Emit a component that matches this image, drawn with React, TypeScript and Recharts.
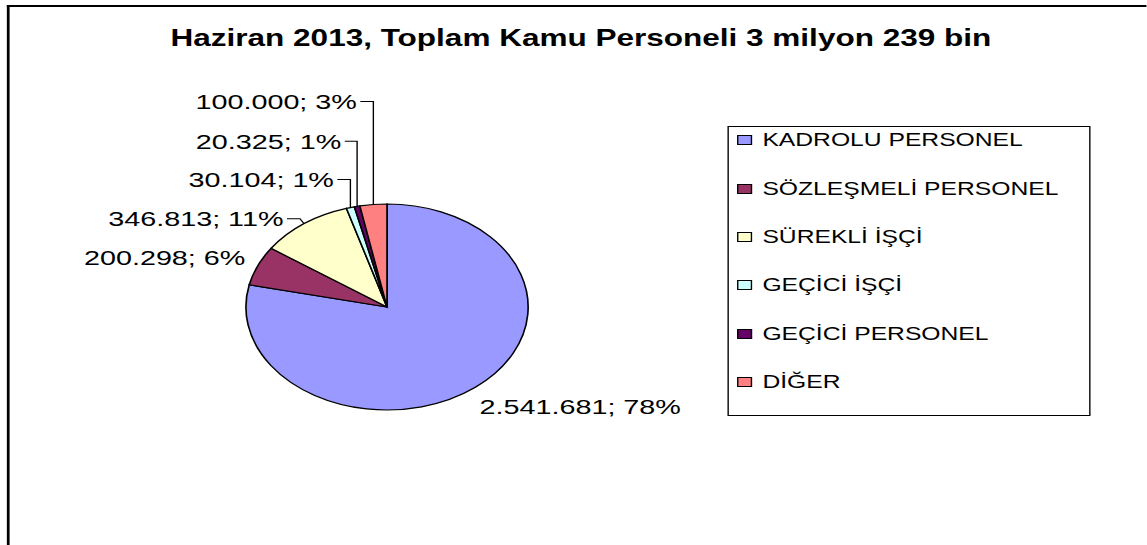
import { PieChart, Pie, Cell, Legend } from 'recharts';

const categories = [
  'KADROLU PERSONEL',
  'SÖZLEŞMELİ PERSONEL',
  'SÜREKLİ İŞÇİ',
  'GEÇİCİ İŞÇİ',
  'GEÇİCİ PERSONEL',
  'DİĞER',
];
const personnel = [2541681, 200298, 346813, 30104, 20325, 100000];
const COLORS = ['#9999ff', '#993366', '#ffffcc', '#ccffff', '#660066', '#ff8080'];

const title = 'Haziran 2013, Toplam Kamu Personeli 3 milyon 239 bin';

// the source chart is stretched sideways, so draw it narrow and widen it
const STRETCH = 1.37;
const W = 837;
const H = 545;
const FONT = '"Liberation Sans", Arial, sans-serif';

// where each data label sits, relative to the slice's outer edge point
const LABEL_PLACE = [
  { dx: 3, dy: 19, anchor: 'start', line: false, bend: 0 },
  { dx: -9, dy: -8, anchor: 'end', line: false, bend: 0 },
  { dx: -15, dy: -5, anchor: 'end', line: true, bend: 3 },
  { dx: -12, dy: -28, anchor: 'end', line: true, bend: 0 },
  { dx: -11.5, dy: -65, anchor: 'end', line: true, bend: 0 },
  { dx: -12, dy: -103, anchor: 'end', line: true, bend: 0 },
];

const data = categories.map((name, i) => ({ name, value: personnel[i] }));

const fmt = (n: number) => String(n).replace(/\B(?=(\d{3})+(?!\d))/g, '.');

const renderLabel = (props: any) => {
  const { cx, cy, midAngle, outerRadius, index, value, percent } = props;
  const rad = (-midAngle * Math.PI) / 180;
  const px = cx + outerRadius * Math.cos(rad);
  const py = cy + outerRadius * Math.sin(rad);
  const p = LABEL_PLACE[index];
  const ax = px + p.dx;
  const ly = py + p.dy;
  const text = `${fmt(value)}; ${Math.round(percent * 100)}%`;
  return (
    <g>
      {p.line && (
        <polyline
          points={`${px},${py} ${px - p.bend},${ly} ${ax + 2.5},${ly}`}
          fill="none"
          stroke="#000"
          strokeWidth={1}
        />
      )}
      <text x={ax} y={ly + 7.5} textAnchor={p.anchor} fontSize={21} fontFamily={FONT} fill="#000">
        {text}
      </text>
    </g>
  );
};

const LegendBox = (props: any) => {
  // keep the series order, not the legend's default sort
  const payload = [...(props.payload || [])].sort(
    (a: any, b: any) => categories.indexOf(a.value) - categories.indexOf(b.value)
  );
  return (
    <div
      style={{
        width: 265,
        height: 290,
        border: '1.5px solid #000',
        boxSizing: 'border-box',
        position: 'relative',
        background: '#fff',
        fontFamily: FONT,
      }}
    >
      {payload.map((entry: any, i: number) => (
        <div
          key={entry.value}
          style={{
            position: 'absolute',
            left: 0,
            top: 3.2 + i * 48.4,
            height: 20,
            display: 'flex',
            alignItems: 'center',
          }}
        >
          <span
            style={{
              position: 'absolute',
              left: 6.5,
              top: 5,
              width: 11,
              height: 10,
              boxSizing: 'border-box',
              border: '1px solid #000',
              background: entry.color,
            }}
          />
          <span
            style={{
              position: 'absolute',
              left: 24.8,
              top: 0,
              fontSize: 18,
              lineHeight: '20px',
              color: '#000',
              whiteSpace: 'nowrap',
            }}
          >
            {entry.value}
          </span>
        </div>
      ))}
    </div>
  );
};

export default function App() {
  return (
    <div
      style={{
        position: 'absolute',
        left: 0,
        top: 0,
        width: W,
        height: H,
        overflow: 'hidden',
        background: '#fff',
        transform: `scaleX(${STRETCH})`,
        transformOrigin: '0 0',
      }}
    >
      <div
        style={{
          position: 'absolute',
          left: 5.3,
          top: 5,
          width: W - 5.3,
          height: H - 5,
          borderTop: '2px solid #000',
          borderLeft: '2px solid #000',
          boxSizing: 'border-box',
        }}
      />
      <div
        style={{
          position: 'absolute',
          left: 0,
          top: 24.7,
          width: 848,
          textAlign: 'center',
          fontFamily: FONT,
          fontWeight: 'bold',
          fontSize: 23,
          lineHeight: '26px',
          color: '#000',
          whiteSpace: 'nowrap',
        }}
      >
        {title}
      </div>
      <div style={{ position: 'absolute', left: 0, top: 0 }}>
        <PieChart width={W} height={H} margin={{ top: 0, right: 0, bottom: 0, left: 0 }}>
          <Pie
            data={data}
            dataKey="value"
            nameKey="name"
            cx={282.5}
            cy={307}
            outerRadius={103}
            startAngle={90}
            endAngle={-270}
            stroke="#000"
            strokeWidth={1.2}
            label={renderLabel}
            labelLine={false}
            isAnimationActive={false}
          >
            {data.map((entry, index) => (
              <Cell key={`cell-${index}`} fill={COLORS[index]} />
            ))}
          </Pie>
          <Legend
            layout="vertical"
            align="right"
            verticalAlign="top"
            content={LegendBox}
            wrapperStyle={{ top: 126, left: 530.7, right: 'auto', bottom: 'auto', width: 265, height: 290 }}
          />
        </PieChart>
      </div>
    </div>
  );
}
